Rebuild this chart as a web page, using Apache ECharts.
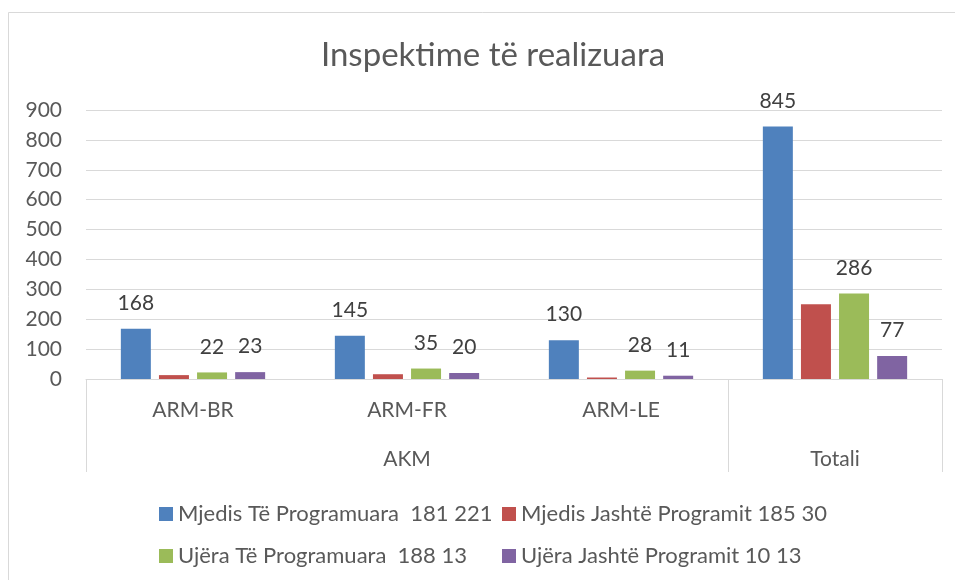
<!DOCTYPE html>
<html>
<head>
<meta charset="utf-8">
<script src="https://cdn.jsdelivr.net/npm/echarts@6/dist/echarts.min.js"></script>
<style>
  html, body { margin: 0; padding: 0; background: #fff; }
  #main { width: 955px; height: 580px; }
</style>
</head>
<body>
<div id="main"></div>
<script>
// kategorite dhe grupet
const categories = ['ARM-BR', 'ARM-FR', 'ARM-LE', 'Totali'];
const groupLabels = ['', 'AKM', '', 'Totali'];
const yTicks = [0, 900, 100];

// vlerat e serive
const mjedisProg = [168, 145, 130, 845];
const mjedisJashte = [13, 16, 5, 250];
const ujeraProg = [22, 35, 28, 286];
const ujeraJashte = [23, 20, 11, 77];

const seriesNames = [
  'Mjedis Të Programuara  181 221',
  'Mjedis Jashtë Programit 185 30',
  'Ujëra Të Programuara  188 13',
  'Ujëra Jashtë Programit 10 13'
];
const colors = ['#4f81bd', '#c0504d', '#9bbb59', '#8064a2'];

const FONT = 'Lato';
const txt = '#595959';
const line = '#d9d9d9';

function bar(name, data, color, showLabel) {
  return {
    name: name,
    type: 'bar',
    data: data,
    barWidth: 30,
    barGap: '27%',
    itemStyle: { color: color },
    label: {
      show: showLabel,
      position: 'top',
      distance: 15,
      color: '#404040',
      fontFamily: FONT,
      fontSize: 21
    }
  };
}

const legendCommon = {
  orient: 'vertical',
  top: 498,
  itemWidth: 14,
  itemHeight: 14,
  itemGap: 20,
  icon: 'rect',
  textStyle: { color: txt, fontFamily: FONT, fontSize: 22, lineHeight: 22 }
};

const chart = echarts.init(document.getElementById('main'));
chart.setOption({
  animation: false,
  backgroundColor: '#fff',
  title: {
    text: 'Inspektime të realizuara',
    left: 488,
    textAlign: 'center',
    top: 34,
    textStyle: { color: txt, fontFamily: FONT, fontSize: 33, fontWeight: 'normal' }
  },
  legend: [
    Object.assign({ left: 154, data: [seriesNames[0], seriesNames[2]] }, legendCommon),
    Object.assign({ left: 497, data: [seriesNames[1], seriesNames[3]] }, legendCommon)
  ],
  graphic: [{
    type: 'rect',
    z: -1,
    shape: { x: 8.5, y: 12.5, width: 960, height: 600 },
    style: { fill: 'none', stroke: line, lineWidth: 1 }
  }],
  grid: { left: 86, right: 13, top: 110, bottom: 201 },
  xAxis: [{
    type: 'category',
    data: categories,
    axisLine: { lineStyle: { color: line } },
    axisTick: {
      show: true,
      length: 93,
      interval: function (i) { return i === 0 || i === 3; },
      lineStyle: { color: line }
    },
    axisLabel: {
      color: txt, fontFamily: FONT, fontSize: 21, margin: 21, interval: 0,
      // Totali shfaqet vetem ne nivelin e poshtem
      formatter: function (v) { return groupLabels.indexOf(v) >= 0 ? '' : v; }
    }
  }, {
    type: 'category',
    position: 'bottom',
    data: groupLabels,
    axisLine: { show: false },
    axisTick: { show: false },
    axisLabel: { color: txt, fontFamily: FONT, fontSize: 21, margin: 70, interval: 0 }
  }],
  yAxis: {
    type: 'value',
    min: yTicks[0],
    max: yTicks[1],
    interval: yTicks[2],
    axisLine: { show: false },
    axisTick: { show: false },
    splitLine: { lineStyle: { color: line } },
    axisLabel: { color: txt, fontFamily: FONT, fontSize: 21, margin: 24 }
  },
  series: [
    bar(seriesNames[0], mjedisProg, colors[0], true),
    bar(seriesNames[1], mjedisJashte, colors[1], false),
    bar(seriesNames[2], ujeraProg, colors[2], true),
    bar(seriesNames[3], ujeraJashte, colors[3], true)
  ]
});
</script>
</body>
</html>
